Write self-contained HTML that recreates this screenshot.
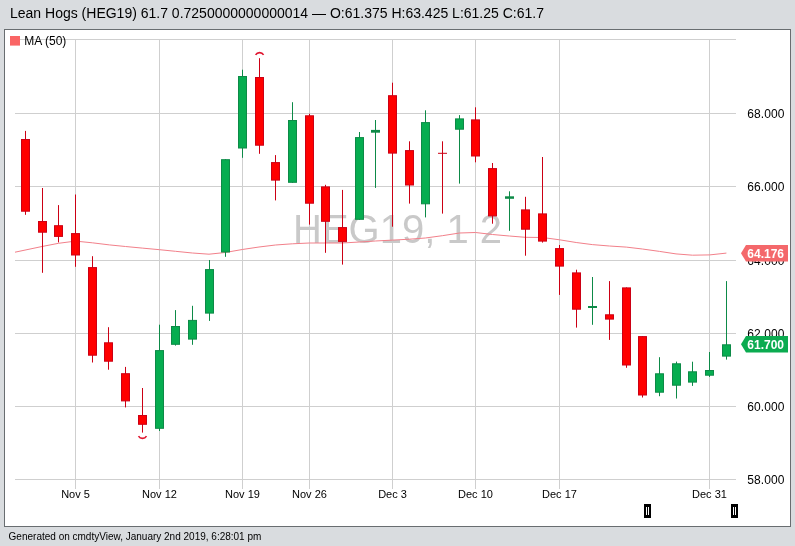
<!DOCTYPE html>
<html><head><meta charset="utf-8"><title>Lean Hogs (HEG19)</title>
<style>
html,body{margin:0;padding:0}
body{width:795px;height:546px;overflow:hidden;background:#d9dcdf;font-family:"Liberation Sans",Arial,Helvetica,sans-serif;position:relative}
#title{position:absolute;left:10px;top:4px;font-size:14px;line-height:18px;color:#000;white-space:nowrap}
#box{position:absolute;left:4px;top:29px;width:785px;height:496px;border:1px solid #686d70;background:#fff}
#foot{position:absolute;left:8.6px;top:529.6px;font-size:10px;line-height:13px;color:#000;white-space:nowrap}
svg{position:absolute;left:0;top:0;font-family:"Liberation Sans",Arial,Helvetica,sans-serif}
</style></head><body>
<div id="title">Lean Hogs (HEG19) 61.7 0.7250000000000014 — O:61.375 H:63.425 L:61.25 C:61.7</div>
<div id="box"></div>
<svg width="795" height="546" viewBox="0 0 795 546">
<g stroke="#cfcfcf" stroke-width="1" fill="none" shape-rendering="crispEdges"><line x1="15" y1="39.5" x2="735.5" y2="39.5"/><line x1="15" y1="113.5" x2="735.5" y2="113.5"/><line x1="15" y1="186.5" x2="735.5" y2="186.5"/><line x1="15" y1="260.5" x2="735.5" y2="260.5"/><line x1="15" y1="333.5" x2="735.5" y2="333.5"/><line x1="15" y1="406.5" x2="735.5" y2="406.5"/><line x1="15" y1="479.5" x2="735.5" y2="479.5"/><line x1="75.5" y1="39.5" x2="75.5" y2="489"/><line x1="159.5" y1="39.5" x2="159.5" y2="489"/><line x1="242.5" y1="39.5" x2="242.5" y2="489"/><line x1="309.5" y1="39.5" x2="309.5" y2="489"/><line x1="392.5" y1="39.5" x2="392.5" y2="489"/><line x1="475.5" y1="39.5" x2="475.5" y2="489"/><line x1="559.5" y1="39.5" x2="559.5" y2="489"/><line x1="709.5" y1="39.5" x2="709.5" y2="489"/></g>
<text x="293" y="242.5" font-size="40" fill="#c9c9c9">HEG19, 1 2</text>
<polyline points="15,252.2 42,246.5 58.5,243.3 75.5,241.1 92.3,242.8 109.4,244.9 125.5,246.5 142.3,248.1 159.5,249.7 175.5,251.3 192.4,253.0 209,254.2 225.2,252.5 242.3,249.5 259,247 275.5,245 292.3,243.8 309.4,243 325.5,243 342.4,243 359.5,242 375.3,241 392.6,240.1 409.4,239.2 425.3,238 442.4,235.7 459.5,233 475.6,232.5 492.5,234.5 509.3,236 525.4,237.3 542.5,237.5 559.6,239.8 576.2,242.5 592.3,244.6 609.4,246 626.3,247.1 642.4,249 659.5,251.4 676,253.9 692.5,255.2 709.8,254.9 726.4,253.1" fill="none" stroke="#f2808a" stroke-width="1"/>
<rect x="25" y="130.9" width="1" height="83.9" fill="#cc0014"/>
<rect x="21.5" y="139.5" width="8" height="71.7" fill="#ff0000" stroke="#cc0014" stroke-width="1"/>
<rect x="42" y="188" width="1" height="84.8" fill="#cc0014"/>
<rect x="38.5" y="221.5" width="8" height="10.7" fill="#ff0000" stroke="#cc0014" stroke-width="1"/>
<rect x="58" y="205.1" width="1" height="37.3" fill="#cc0014"/>
<rect x="54.5" y="225.7" width="8" height="10.7" fill="#ff0000" stroke="#cc0014" stroke-width="1"/>
<rect x="75" y="194.5" width="1" height="72.3" fill="#cc0014"/>
<rect x="71.5" y="233.6" width="8" height="21.4" fill="#ff0000" stroke="#cc0014" stroke-width="1"/>
<rect x="92" y="256.2" width="1" height="106.3" fill="#cc0014"/>
<rect x="88.5" y="267.6" width="8" height="87.6" fill="#ff0000" stroke="#cc0014" stroke-width="1"/>
<rect x="108" y="327.2" width="1" height="42.5" fill="#cc0014"/>
<rect x="104.5" y="342.8" width="8" height="18.4" fill="#ff0000" stroke="#cc0014" stroke-width="1"/>
<rect x="125" y="366.9" width="1" height="40.5" fill="#cc0014"/>
<rect x="121.5" y="373.7" width="8" height="27.2" fill="#ff0000" stroke="#cc0014" stroke-width="1"/>
<rect x="142" y="388" width="1" height="44.6" fill="#cc0014"/>
<rect x="138.5" y="415.5" width="8" height="8.8" fill="#ff0000" stroke="#cc0014" stroke-width="1"/>
<rect x="159" y="324.7" width="1" height="106.3" fill="#0d8a47"/>
<rect x="155.5" y="350.6" width="8" height="77.7" fill="#06ad50" stroke="#0d8a47" stroke-width="1"/>
<rect x="175" y="310.1" width="1" height="35.5" fill="#0d8a47"/>
<rect x="171.5" y="326.5" width="8" height="17.8" fill="#06ad50" stroke="#0d8a47" stroke-width="1"/>
<rect x="192" y="305.8" width="1" height="39.0" fill="#0d8a47"/>
<rect x="188.5" y="320.4" width="8" height="18.7" fill="#06ad50" stroke="#0d8a47" stroke-width="1"/>
<rect x="209" y="260" width="1" height="60.9" fill="#0d8a47"/>
<rect x="205.5" y="269.6" width="8" height="43.5" fill="#06ad50" stroke="#0d8a47" stroke-width="1"/>
<rect x="225" y="159.2" width="1" height="97.6" fill="#0d8a47"/>
<rect x="221.5" y="159.7" width="8" height="92.3" fill="#06ad50" stroke="#0d8a47" stroke-width="1"/>
<rect x="242" y="69.7" width="1" height="88.1" fill="#0d8a47"/>
<rect x="238.5" y="76.5" width="8" height="71.5" fill="#06ad50" stroke="#0d8a47" stroke-width="1"/>
<rect x="259" y="58.2" width="1" height="95.6" fill="#cc0014"/>
<rect x="255.5" y="77.5" width="8" height="67.7" fill="#ff0000" stroke="#cc0014" stroke-width="1"/>
<rect x="275" y="155.1" width="1" height="45.3" fill="#cc0014"/>
<rect x="271.5" y="162.6" width="8" height="17.5" fill="#ff0000" stroke="#cc0014" stroke-width="1"/>
<rect x="292" y="102.2" width="1" height="80.6" fill="#0d8a47"/>
<rect x="288.5" y="120.5" width="8" height="61.8" fill="#06ad50" stroke="#0d8a47" stroke-width="1"/>
<rect x="309" y="113.8" width="1" height="110.8" fill="#cc0014"/>
<rect x="305.5" y="115.8" width="8" height="87.4" fill="#ff0000" stroke="#cc0014" stroke-width="1"/>
<rect x="325" y="184.8" width="1" height="68.0" fill="#cc0014"/>
<rect x="321.5" y="186.9" width="8" height="34.4" fill="#ff0000" stroke="#cc0014" stroke-width="1"/>
<rect x="342" y="189.9" width="1" height="74.7" fill="#cc0014"/>
<rect x="338.5" y="227.6" width="8" height="13.8" fill="#ff0000" stroke="#cc0014" stroke-width="1"/>
<rect x="359" y="132" width="1" height="87.8" fill="#0d8a47"/>
<rect x="355.5" y="137.6" width="8" height="81.7" fill="#06ad50" stroke="#0d8a47" stroke-width="1"/>
<rect x="375" y="120" width="1" height="67.9" fill="#0d8a47"/>
<rect x="371" y="129.9" width="9" height="2.8" fill="#0d8a47"/>
<rect x="392" y="82.7" width="1" height="144.0" fill="#cc0014"/>
<rect x="388.5" y="95.7" width="8" height="57.4" fill="#ff0000" stroke="#cc0014" stroke-width="1"/>
<rect x="409" y="141.3" width="1" height="62.3" fill="#cc0014"/>
<rect x="405.5" y="150.6" width="8" height="34.4" fill="#ff0000" stroke="#cc0014" stroke-width="1"/>
<rect x="425" y="110.3" width="1" height="107.1" fill="#0d8a47"/>
<rect x="421.5" y="122.6" width="8" height="81.2" fill="#06ad50" stroke="#0d8a47" stroke-width="1"/>
<rect x="442" y="141.3" width="1" height="72.3" fill="#cc0014"/>
<rect x="438" y="152.8" width="9" height="1.0" fill="#cc0014"/>
<rect x="459" y="115.1" width="1" height="68.5" fill="#0d8a47"/>
<rect x="455.5" y="118.9" width="8" height="10.3" fill="#06ad50" stroke="#0d8a47" stroke-width="1"/>
<rect x="475" y="107.3" width="1" height="55.0" fill="#cc0014"/>
<rect x="471.5" y="119.9" width="8" height="36.1" fill="#ff0000" stroke="#cc0014" stroke-width="1"/>
<rect x="492" y="163" width="1" height="60.7" fill="#cc0014"/>
<rect x="488.5" y="168.6" width="8" height="47.3" fill="#ff0000" stroke="#cc0014" stroke-width="1"/>
<rect x="509" y="191.3" width="1" height="39.5" fill="#0d8a47"/>
<rect x="505" y="196.3" width="9" height="2.5" fill="#0d8a47"/>
<rect x="525" y="196.8" width="1" height="58.9" fill="#cc0014"/>
<rect x="521.5" y="209.9" width="8" height="19.3" fill="#ff0000" stroke="#cc0014" stroke-width="1"/>
<rect x="542" y="157" width="1" height="85.6" fill="#cc0014"/>
<rect x="538.5" y="213.9" width="8" height="27.2" fill="#ff0000" stroke="#cc0014" stroke-width="1"/>
<rect x="559" y="245" width="1" height="49.9" fill="#cc0014"/>
<rect x="555.5" y="248.6" width="8" height="17.5" fill="#ff0000" stroke="#cc0014" stroke-width="1"/>
<rect x="576" y="269.7" width="1" height="57.9" fill="#cc0014"/>
<rect x="572.5" y="272.9" width="8" height="36.3" fill="#ff0000" stroke="#cc0014" stroke-width="1"/>
<rect x="592" y="277" width="1" height="47.8" fill="#0d8a47"/>
<rect x="588" y="306" width="9" height="2.0" fill="#0d8a47"/>
<rect x="609" y="281.1" width="1" height="58.8" fill="#cc0014"/>
<rect x="605.5" y="314.8" width="8" height="4.3" fill="#ff0000" stroke="#cc0014" stroke-width="1"/>
<rect x="626" y="287.4" width="1" height="80.4" fill="#cc0014"/>
<rect x="622.5" y="287.9" width="8" height="77.1" fill="#ff0000" stroke="#cc0014" stroke-width="1"/>
<rect x="642" y="336.1" width="1" height="61.4" fill="#cc0014"/>
<rect x="638.5" y="336.6" width="8" height="58.4" fill="#ff0000" stroke="#cc0014" stroke-width="1"/>
<rect x="659" y="357.2" width="1" height="39.0" fill="#0d8a47"/>
<rect x="655.5" y="373.8" width="8" height="18.4" fill="#06ad50" stroke="#0d8a47" stroke-width="1"/>
<rect x="676" y="361.6" width="1" height="36.9" fill="#0d8a47"/>
<rect x="672.5" y="363.8" width="8" height="21.4" fill="#06ad50" stroke="#0d8a47" stroke-width="1"/>
<rect x="692" y="361.7" width="1" height="24.2" fill="#0d8a47"/>
<rect x="688.5" y="371.8" width="8" height="10.3" fill="#06ad50" stroke="#0d8a47" stroke-width="1"/>
<rect x="709" y="352" width="1" height="24.9" fill="#0d8a47"/>
<rect x="705.5" y="370.5" width="8" height="4.7" fill="#06ad50" stroke="#0d8a47" stroke-width="1"/>
<rect x="726" y="281.1" width="1" height="78.5" fill="#0d8a47"/>
<rect x="722.5" y="344.8" width="8" height="11.3" fill="#06ad50" stroke="#0d8a47" stroke-width="1"/>
<path d="M255.6 54.9 A4.7 4.7 0 0 1 263.6 54.9" fill="none" stroke="#e0142e" stroke-width="1.6"/>
<path d="M138.5 436.1 A4.7 4.7 0 0 0 146.5 436.1" fill="none" stroke="#e0142e" stroke-width="1.6"/>
<text x="747.3" y="117.9" font-size="12" letter-spacing="0.1" fill="#000">68.000</text>
<text x="747.3" y="190.9" font-size="12" letter-spacing="0.1" fill="#000">66.000</text>
<text x="747.3" y="264.9" font-size="12" letter-spacing="0.1" fill="#000">64.000</text>
<text x="747.3" y="337.9" font-size="12" letter-spacing="0.1" fill="#000">62.000</text>
<text x="747.3" y="410.9" font-size="12" letter-spacing="0.1" fill="#000">60.000</text>
<text x="747.3" y="483.9" font-size="12" letter-spacing="0.1" fill="#000">58.000</text>
<text x="75.5" y="498.2" font-size="11" fill="#000" text-anchor="middle">Nov 5</text>
<text x="159.5" y="498.2" font-size="11" fill="#000" text-anchor="middle">Nov 12</text>
<text x="242.5" y="498.2" font-size="11" fill="#000" text-anchor="middle">Nov 19</text>
<text x="309.5" y="498.2" font-size="11" fill="#000" text-anchor="middle">Nov 26</text>
<text x="392.5" y="498.2" font-size="11" fill="#000" text-anchor="middle">Dec 3</text>
<text x="475.5" y="498.2" font-size="11" fill="#000" text-anchor="middle">Dec 10</text>
<text x="559.5" y="498.2" font-size="11" fill="#000" text-anchor="middle">Dec 17</text>
<text x="709.5" y="498.2" font-size="11" fill="#000" text-anchor="middle">Dec 31</text>
<path d="M741 253.3 L746 245.0 L788 245.0 L788 261.6 L746 261.6 Z" fill="#f4686b"/><text x="747.3" y="257.6" font-size="12" font-weight="bold" fill="#fff">64.176</text>
<path d="M741 344.2 L746 335.9 L788 335.9 L788 352.5 L746 352.5 Z" fill="#0bab50"/><text x="747.3" y="348.5" font-size="12" font-weight="bold" fill="#fff">61.700</text>
<rect x="644" y="504" width="7" height="14" fill="#000"/><rect x="646" y="507" width="1" height="8" fill="#fff"/><rect x="648" y="507" width="1" height="8" fill="#fff"/>
<rect x="731" y="504" width="7" height="14" fill="#000"/><rect x="733" y="507" width="1" height="8" fill="#fff"/><rect x="735" y="507" width="1" height="8" fill="#fff"/>
<rect x="10" y="36" width="10" height="9.6" fill="#fa6565"/>
<text x="24.3" y="45.3" font-size="12" fill="#000">MA (50)</text>
</svg>
<div id="foot">Generated on cmdtyView, January 2nd 2019, 6:28:01 pm</div>
</body></html>
